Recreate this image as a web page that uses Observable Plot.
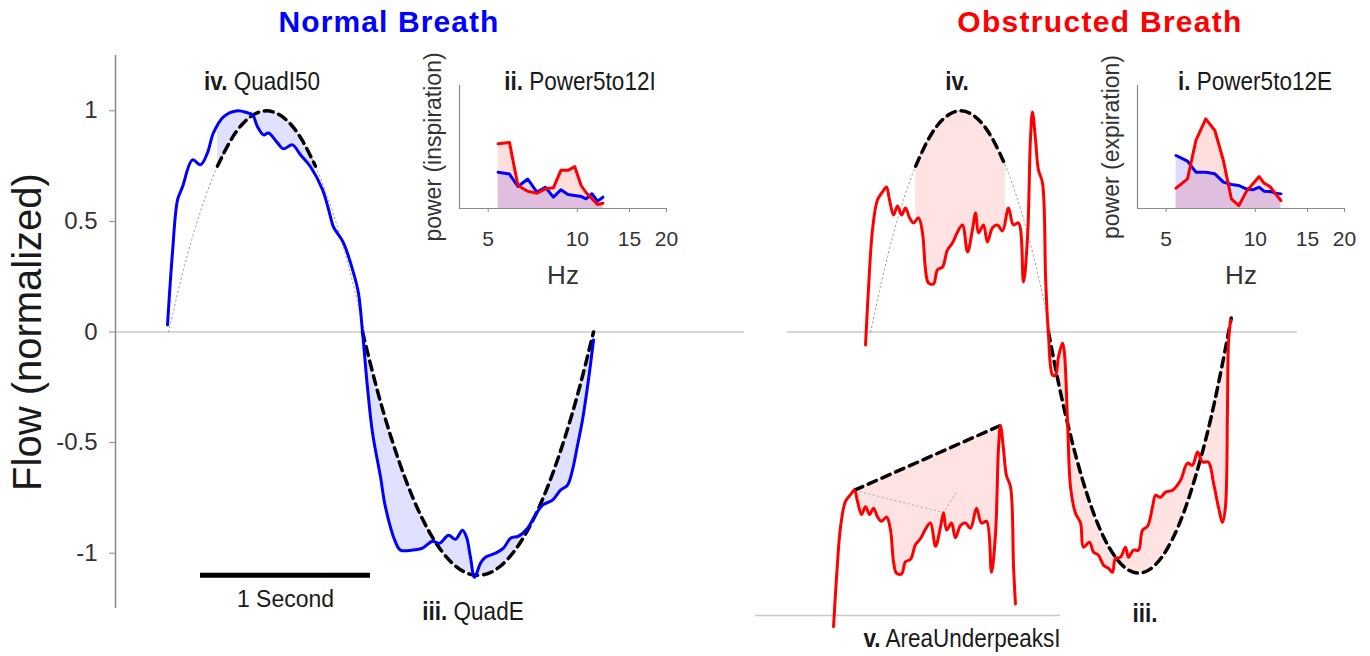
<!DOCTYPE html>
<html><head><meta charset="utf-8">
<script src="https://cdn.jsdelivr.net/npm/d3@7"></script>
<script src="https://cdn.jsdelivr.net/npm/@observablehq/plot@0.6"></script>
<style>
body{margin:0;background:#fff;}
#chart{position:relative;width:1370px;height:656px;overflow:hidden;font-family:"Liberation Sans",Arial,sans-serif;background:#fff;}
#chart svg{position:absolute;left:0;top:0;}
.lbl{position:absolute;white-space:nowrap;line-height:1;color:#1a1a1a;transform-origin:50% 50%;}
</style></head><body><div id="chart"></div>
<script>
// ---------- DATA (time in seconds, flow normalized) ----------
const normalBreath = [
[0.306,0.032],[0.335,0.357],[0.365,0.597],[0.394,0.656],[0.453,0.778],[0.500,0.756],[0.541,0.810],[0.576,0.900],[0.635,0.973],[0.718,1.000],[0.776,0.991],[0.806,0.982],[0.835,0.928],[0.871,0.891],[0.900,0.900],[0.953,0.855],[0.988,0.828],[1.041,0.846],[1.088,0.801],[1.147,0.747],[1.218,0.643],[1.265,0.520],[1.282,0.475],[1.341,0.403],[1.400,0.267],[1.429,0.176],[1.453,0.000],[1.482,-0.249],[1.512,-0.457],[1.559,-0.656],[1.588,-0.792],[1.647,-0.950],[1.676,-0.986],[1.747,-0.986],[1.806,-0.977],[1.865,-0.946],[1.906,-0.955],[1.959,-0.919],[2.000,-0.937],[2.041,-0.896],[2.065,-0.928],[2.088,-1.018],[2.112,-1.109],[2.147,-1.045],[2.176,-1.018],[2.235,-1.000],[2.282,-0.977],[2.324,-0.932],[2.371,-0.923],[2.424,-0.887],[2.459,-0.842],[2.512,-0.783],[2.571,-0.760],[2.618,-0.715],[2.659,-0.692],[2.688,-0.624],[2.718,-0.511],[2.747,-0.398],[2.782,-0.217],[2.812,-0.036]
];
const obstructedBreath = [
[0.459,-0.059],[0.476,0.190],[0.500,0.462],[0.529,0.597],[0.559,0.633],[0.582,0.656],[0.600,0.597],[0.624,0.529],[0.647,0.570],[0.671,0.529],[0.694,0.561],[0.718,0.516],[0.741,0.493],[0.771,0.516],[0.794,0.448],[0.812,0.281],[0.829,0.222],[0.859,0.217],[0.882,0.281],[0.912,0.294],[0.941,0.371],[0.971,0.403],[1.000,0.452],[1.029,0.484],[1.059,0.362],[1.088,0.462],[1.106,0.538],[1.124,0.448],[1.153,0.484],[1.176,0.407],[1.206,0.471],[1.235,0.484],[1.265,0.457],[1.300,0.561],[1.329,0.484],[1.359,0.493],[1.388,0.226],[1.412,0.430],[1.429,0.869],[1.441,0.995],[1.459,0.869],[1.476,0.733],[1.500,0.674],[1.518,0.249],[1.529,0.060],[1.535,-0.005],[1.559,-0.195],[1.576,-0.195],[1.594,-0.113],[1.618,-0.050],[1.629,-0.095],[1.647,-0.398],[1.665,-0.701],[1.694,-0.819],[1.724,-0.864],[1.741,-0.973],[1.776,-0.950],[1.800,-0.995],[1.829,-1.009],[1.859,-1.054],[1.888,-1.068],[1.912,-1.086],[1.929,-1.023],[1.959,-1.018],[1.988,-0.973],[2.006,-1.018],[2.035,-0.986],[2.065,-0.986],[2.088,-0.896],[2.118,-0.878],[2.147,-0.792],[2.165,-0.738],[2.194,-0.747],[2.224,-0.724],[2.265,-0.715],[2.312,-0.670],[2.353,-0.593],[2.382,-0.602],[2.412,-0.543],[2.441,-0.588],[2.476,-0.588],[2.506,-0.683],[2.535,-0.792],[2.559,-0.860],[2.576,-0.792],[2.588,-0.353],[2.594,-0.050],[2.606,0.054]
];
const normInspFit = [[0.312,0],[0.384,0.234],[0.456,0.438],[0.528,0.609],[0.600,0.750],[0.672,0.859],[0.744,0.938],[0.816,0.984],[0.888,1.0],[0.960,0.984],[1.032,0.938],[1.104,0.859],[1.176,0.750],[1.248,0.609],[1.320,0.438],[1.392,0.234],[1.464,0]];
const normExpFit = [[1.453,0],[1.538,-0.258],[1.623,-0.481],[1.708,-0.670],[1.793,-0.825],[1.878,-0.945],[1.963,-1.031],[2.048,-1.083],[2.133,-1.100],[2.217,-1.083],[2.302,-1.031],[2.387,-0.945],[2.472,-0.825],[2.557,-0.670],[2.642,-0.481],[2.727,-0.258],[2.812,0]];
const obsInspFit = [[0.489,0],[0.555,0.234],[0.621,0.438],[0.687,0.609],[0.754,0.750],[0.820,0.859],[0.886,0.938],[0.952,0.984],[1.018,1.0],[1.084,0.984],[1.150,0.938],[1.216,0.859],[1.283,0.750],[1.349,0.609],[1.415,0.438],[1.481,0.234],[1.547,0]];
const obsExpFit = [[1.535,0],[1.601,-0.255],[1.668,-0.477],[1.734,-0.664],[1.800,-0.818],[1.866,-0.937],[1.933,-1.022],[1.999,-1.073],[2.065,-1.090],[2.131,-1.073],[2.198,-1.022],[2.264,-0.937],[2.330,-0.818],[2.396,-0.664],[2.463,-0.477],[2.529,-0.255],[2.595,0],[2.610,0.063]];
const normQuadWindow = [0.600, 1.176];   // middle 50% of inspiration
const obsQuadWindow = [0.754, 1.283];
const inspirationEnd = 1.529;            // obstructed inspiration end (panel v)
const peakLine = [[0.582,0.656],[1.441,0.995]];
const peakDotted = [[0.588,0.654],[1.106,0.539],[1.188,0.654]];
const scaleBar = {start:0.5, end:1.5, level:-1.1, label:"1 Second"};
const flowTicks = [-1,-0.5,0,0.5,1];

// power spectra insets
const freqHz = [5.4,5.9,6.3,6.8,7.3,7.8,8.3,8.8,9.3,9.8,10.3,10.7,11.2,11.7,12.2];
const inspPowerNormal = [0.295,0.280,0.179,0.240,0.133,0.173,0.092,0.152,0.114,0.106,0.098,0.079,0.120,0.060,0.092];
const inspPowerObstructed = [0.526,0.537,0.187,0.140,0.124,0.160,0.168,0.310,0.310,0.340,0.187,0.130,0.079,0.033,0.043];
const expPowerNormal = [0.431,0.385,0.295,0.295,0.282,0.214,0.195,0.187,0.160,0.152,0.173,0.141,0.138,0.125,0.119];
const expPowerObstructed = [0.165,0.241,0.553,0.729,0.634,0.390,0.079,0.024,0.133,0.200,0.260,0.206,0.179,0.119,0.065];
const hzTicks = [5,10,15,20];

// ---------- helpers ----------
const W = 1370, H = 656;
const FONT = '"Liberation Sans", Arial, sans-serif';
function frame(l, r, t, b) {
  return {width: W, height: H, marginLeft: l, marginRight: W - r, marginTop: t, marginBottom: H - b,
    style: {background: "transparent", fontFamily: FONT, color: "#1a1a1a", overflow: "visible"}};
}
function interp(pts, t) {
  if (t <= pts[0][0]) return pts[0][1];
  for (let i = 1; i < pts.length; i++) if (t <= pts[i][0]) {
    const [t0, v0] = pts[i-1], [t1, v1] = pts[i];
    return v0 + (v1 - v0) * (t - t0) / (t1 - t0);
  }
  return pts[pts.length-1][1];
}
function band(curve, fit, t0, t1) {
  const ts = [...new Set([t0, t1, ...curve.map(d => d[0]), ...fit.map(d => d[0])])]
    .filter(t => t >= t0 && t <= t1).sort((a, b) => a - b);
  return ts.map(t => ({t, a: interp(curve, t), b: interp(fit, t)}));
}
const inWin = w => d => d[0] >= w[0] - 1e-9 && d[0] <= w[1] + 1e-9;
const X = d => d[0], Y = d => d[1];
const dash = {x: X, y: Y, stroke: "black", strokeWidth: 3.5, strokeDasharray: "9,6", curve: "natural"};
const dots = {x: X, y: Y, stroke: "#9a9a9a", strokeWidth: 1, strokeDasharray: "1.5,3", curve: "natural"};

const chart = document.getElementById("chart");

// ---------- Normal breath main ----------
chart.append(Plot.plot({
  ...frame(115, 744, 55, 608),
  x: {domain: [0, 3.7], axis: null},
  y: {domain: [-1.25, 1.25]},
  marks: [
    Plot.ruleY([0], {stroke: "#c8c8c8", strokeWidth: 1.5}),
    Plot.ruleX([0], {stroke: "#8a8a8a", strokeWidth: 1.5}),
    Plot.axisY({ticks: flowTicks, tickFormat: d => String(d), tickSize: 6, tickPadding: 12, fontSize: 24, stroke: "#8a8a8a", fill: "#333", label: null}),
    Plot.areaY(band(normalBreath, normInspFit, ...normQuadWindow), {x: "t", y1: "a", y2: "b", fill: "#0000ff", fillOpacity: 0.12}),
    Plot.areaY(band(normalBreath, normExpFit, normExpFit[0][0], normExpFit[normExpFit.length-1][0]), {x: "t", y1: "a", y2: "b", fill: "#0000ff", fillOpacity: 0.12}),
    Plot.line(normInspFit, dots),
    Plot.line(normInspFit.filter(inWin(normQuadWindow)), dash),
    Plot.line(normExpFit, dash),
    Plot.line(normalBreath, {x: X, y: Y, stroke: "#0000ff", strokeWidth: 3, curve: "catmull-rom"}),
    Plot.ruleY([scaleBar.level], {x1: scaleBar.start, x2: scaleBar.end, stroke: "black", strokeWidth: 5}),
    Plot.text([scaleBar.label], {text: d => d, x: (scaleBar.start + scaleBar.end) / 2, y: scaleBar.level, dy: 32, lineAnchor: "bottom", fontSize: 23, fill: "#1a1a1a"}),
    Plot.text(["Flow (normalized)"], {text: d => d, frameAnchor: "left", textAnchor: "middle", dx: -87, rotate: -90, fontSize: 40, fill: "#1a1a1a"})
  ]
}));

// ---------- Obstructed breath main ----------
chart.append(Plot.plot({
  ...frame(787, 1297, 55, 608),
  x: {domain: [0, 3.0], axis: null},
  y: {domain: [-1.25, 1.25], axis: null},
  marks: [
    Plot.ruleY([0], {stroke: "#c8c8c8", strokeWidth: 1.5}),
    Plot.areaY(band(obstructedBreath, obsInspFit, ...obsQuadWindow), {x: "t", y1: "a", y2: "b", fill: "#ff0000", fillOpacity: 0.11}),
    Plot.areaY(band(obstructedBreath, obsExpFit, obsExpFit[0][0], obstructedBreath[obstructedBreath.length-1][0]), {x: "t", y1: "a", y2: "b", fill: "#ff0000", fillOpacity: 0.11}),
    Plot.line(obsInspFit, dots),
    Plot.line(obsInspFit.filter(inWin(obsQuadWindow)), dash),
    Plot.line(obsExpFit, dash),
    Plot.line(obstructedBreath, {x: X, y: Y, stroke: "#ff0000", strokeWidth: 3, curve: "catmull-rom"})
  ]
}));

// ---------- Panel v: area under peaks (inspiration) ----------
const subCurve = obstructedBreath.filter(d => d[0] <= inspirationEnd + 1e-9);
chart.append(Plot.plot({
  ...frame(755, 1060, 424, 634.1),
  x: {domain: [0, 1.794], axis: null},
  y: {domain: [-0.1, 1.0], axis: null},
  marks: [
    Plot.ruleY([0], {stroke: "#c8c8c8", strokeWidth: 1.5}),
    Plot.areaY(band(subCurve, peakLine, peakLine[0][0], peakLine[1][0]), {x: "t", y1: "a", y2: "b", fill: "#ff0000", fillOpacity: 0.11}),
    Plot.line(peakDotted, {...dots, stroke: "#b0b0b0", curve: "linear"}),
    Plot.line(peakLine, {...dash, curve: "linear"}),
    Plot.line(subCurve, {x: X, y: Y, stroke: "#ff0000", strokeWidth: 3, curve: "catmull-rom"})
  ]
}));

// ---------- Insets ----------
function inset(l, r, blue, red, ylabel) {
  const rows = freqHz.map((f, i) => ({f, blue: blue[i], red: red[i]}));
  return Plot.plot({
    ...frame(l, r, 85, 208),
    x: {type: "log", domain: [4, 20]},
    y: {domain: [0, 1], axis: null},
    marks: [
      Plot.areaY(rows, {x: "f", y: "blue", fill: "#0000ff", fillOpacity: 0.14}),
      Plot.areaY(rows, {x: "f", y: "red", fill: "#ff0000", fillOpacity: 0.13}),
      Plot.ruleX([4], {stroke: "#8a8a8a", strokeWidth: 1.2}),
      Plot.ruleY([0], {stroke: "#8a8a8a", strokeWidth: 1.2}),
      Plot.axisX({ticks: hzTicks, tickFormat: d => String(d), tickSize: 4, tickPadding: 19, fontSize: 21, stroke: "#8a8a8a", fill: "#333", label: null}),
      Plot.line(rows, {x: "f", y: "blue", stroke: "#0000ff", strokeWidth: 3}),
      Plot.line(rows, {x: "f", y: "red", stroke: "#ff0000", strokeWidth: 3}),
      Plot.text(["Hz"], {text: d => d, frameAnchor: "bottom", dy: 75, lineAnchor: "bottom", fontSize: 26, fill: "#333"}),
      Plot.text([ylabel], {text: d => d, frameAnchor: "left", textAnchor: "middle", dx: -26, rotate: -90, fontSize: 23, fill: "#333"})
    ]
  });
}
chart.append(inset(459, 666, inspPowerNormal, inspPowerObstructed, "power (inspiration)"));
chart.append(inset(1137, 1344, expPowerNormal, expPowerObstructed, "power (expiration)"));

// ---------- Titles & annotations ----------
const labels = [
  {html: "Normal Breath", x: 389, base: 32, size: 30, color: "#0000ff", bold: true, sx: 1, ls: 1.1},
  {html: "Obstructed Breath", x: 1100, base: 32, size: 30, color: "#ff0000", bold: true, sx: 1, ls: 1.3},
  {html: "<b>iv.</b> QuadI50", x: 262, base: 90, size: 25},
  {html: "<b>ii.</b> Power5to12I", x: 580, base: 90, size: 25},
  {html: "<b>iii.</b> QuadE", x: 473, base: 620, size: 25},
  {html: "<b>iv.</b>", x: 957, base: 90, size: 25},
  {html: "<b>i.</b> Power5to12E", x: 1255, base: 90, size: 25},
  {html: "<b>iii.</b>", x: 1145, base: 622, size: 25},
  {html: "<b>v.</b> AreaUnderpeaksI", x: 962, base: 647, size: 25}
];
for (const L of labels) {
  const d = document.createElement("div");
  d.className = "lbl";
  d.innerHTML = L.html;
  d.style.left = L.x + "px";
  d.style.top = (L.base - 0.8465 * L.size) + "px";
  d.style.fontSize = L.size + "px";
  if (L.color) d.style.color = L.color;
  if (L.bold) d.style.fontWeight = "bold";
  if (L.ls) d.style.letterSpacing = L.ls + "px";
  d.style.transform = `translateX(-50%) scaleX(${L.sx ?? 0.9})`;
  chart.append(d);
}
</script></body></html>
